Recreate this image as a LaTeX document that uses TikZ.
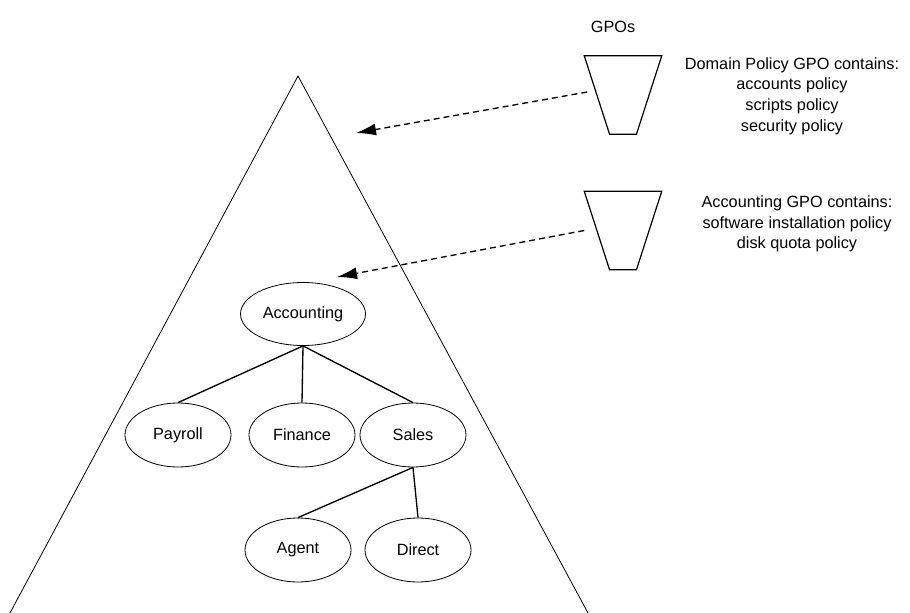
\documentclass[tikz,border=0pt]{standalone}
\usepackage{fontspec}
\setmainfont{Liberation Sans}
\usepackage{tikz}
\usetikzlibrary{shapes.geometric, arrows.meta, positioning}

\begin{document}
\begin{tikzpicture}[
    x=0.75pt, y=-0.75pt,
    font=\fontsize{12.2pt}{15.5pt}\selectfont,
    unit/.style={ellipse, draw, line width=0.6pt, minimum width=79.5pt, minimum height=48pt, inner sep=0pt},
    gpo/.style={rectangle, minimum width=57.75pt, minimum height=58.5pt, inner sep=0pt},
    bucket/.style={line width=0.9pt},
    note/.style={align=center, inner sep=0pt},
    branch/.style={line width=1pt},
    link/.style={-{Latex[length=15pt, width=9pt]}, dashed, dash pattern=on 4.5pt off 3pt, line width=1pt}
]
\useasboundingbox (0,0) rectangle (910,613);

% domain
\draw[line width=0.6pt] (10,613) -- (298,76) -- (588,613);

\node[unit, minimum width=93.75pt, minimum height=47.25pt] (acct) at (303,314) {Accounting};
\node[unit] (payroll) at (178,435) {Payroll};
\node[unit] (finance) at (302,435) {Finance};
\node[unit] (sales) at (413,435) {Sales};
\node[unit] (agent) at (298,550) {Agent};
\node[unit] (direct) at (418,550) {Direct};

\draw[branch] (acct.south) -- (payroll.north);
\draw[branch] (acct.south) -- (finance.north);
\draw[branch] (acct.south) -- (sales.north);
\draw[branch] (sales.south) -- (agent.north);
\draw[branch] (sales.south) -- (direct.north);

% GPOs
\node[note] (gpos) at (613,27) {GPOs};
\node[gpo] (gpo1) at (623,95) {};
\node[gpo] (gpo2) at (623,230.5) {};
\draw[bucket] (gpo1.north west) -- (gpo1.north east) -- ([xshift=-19]gpo1.south east) -- ([xshift=19]gpo1.south west) -- cycle;
\draw[bucket] (gpo2.north west) -- (gpo2.north east) -- ([xshift=-19]gpo2.south east) -- ([xshift=19]gpo2.south west) -- cycle;

\node[note] (domtext) at (792,96) {Domain Policy GPO contains:\\accounts policy\\scripts policy\\security policy};
\node[note] (acctext) at (797,224) {Accounting GPO contains:\\software installation policy\\disk quota policy};

\coordinate (domtip) at (356,133);
\coordinate (acctip) at (337,277);

\draw[link] ([shift={(3,-3)}]gpo1.west) -- (domtip);
\draw[link] ([shift={(0,0)}]gpo2.west) -- (acctip);

\end{tikzpicture}
\end{document}
